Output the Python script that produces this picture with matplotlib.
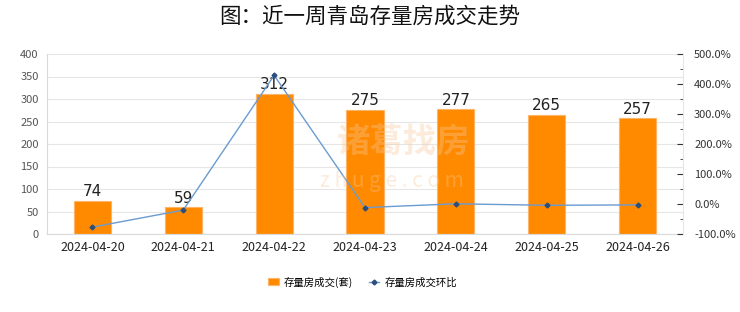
import matplotlib
matplotlib.use("Agg")
import matplotlib.pyplot as plt
from matplotlib.ticker import MultipleLocator, FuncFormatter

plt.rcParams['font.family'] = ['Noto Sans CJK SC', 'DejaVu Sans']

dates = ["2024-04-20", "2024-04-21", "2024-04-22", "2024-04-23", "2024-04-24", "2024-04-25", "2024-04-26"]
volume = [74, 59, 312, 275, 277, 265, 257]
mom_pct = [-77.0, -20.3, 428.8, -11.9, 0.7, -4.3, -3.0]

fig = plt.figure(figsize=(7.4, 3.12), dpi=100)
ax = fig.add_axes([47/740, 1-234/312, (683-47)/740, 180/312])
ax2 = ax.twinx()

x = list(range(len(dates)))
bars = ax.bar(x, volume, width=0.41, color='#FF8A00', edgecolor='#FFB366', linewidth=0.8,
              label='存量房成交(套)', zorder=2)
for xi, v in zip(x, volume):
    ax.text(xi, v + 4, str(v), ha='center', va='bottom', fontsize=11, color='#222222',
            family=['DejaVu Sans'])

ax.set_xlim(-0.5, len(dates) - 0.5)
ax.set_ylim(0, 400)
ax.yaxis.set_major_locator(MultipleLocator(50))
ax.grid(axis='y', color='#e6e6e6', linewidth=0.8, zorder=0)
ax.set_axisbelow(True)
ax.set_xticks(x)
ax.set_xticklabels(dates, fontsize=9, color='#222222')
ax.tick_params(axis='x', length=0, pad=5)
ax.tick_params(axis='y', length=0, labelsize=8, labelcolor='#555555', pad=6)
for s in ['top', 'right']:
    ax.spines[s].set_visible(False)
for s in ['left', 'bottom']:
    ax.spines[s].set_color('#d9d9d9')

line, = ax2.plot(x, mom_pct, color='#6a9bd1', linewidth=1.0, marker='D', markersize=2.5,
                 markerfacecolor='#2c4f7c', markeredgecolor='#2c4f7c', label='存量房成交环比', zorder=3)
ax2.set_ylim(-100, 500)
ax2.yaxis.set_major_locator(MultipleLocator(100))
ax2.yaxis.set_minor_locator(MultipleLocator(50))
ax2.yaxis.set_major_formatter(FuncFormatter(lambda v, p: f"{v:.1f}%"))
ax2.tick_params(axis='y', which='major', direction='in', length=4, color='#333333',
                labelsize=8, labelcolor='#333333', pad=8)
ax2.tick_params(axis='y', which='minor', direction='in', length=2, color='#333333')
for s in ['top', 'left', 'bottom']:
    ax2.spines[s].set_visible(False)
ax2.spines['right'].set_color('#e6e6e6')

# watermark
fig.text(0.545, 1-143/312, '诸葛找房', ha='center', va='center', fontsize=24, color='#f7c89a',
         alpha=0.35, fontweight='bold')
fig.text(0.53, 1-181/312, 'z h u g e . c o m', ha='center', va='center', fontsize=15, color='#f7c89a',
         alpha=0.35)

fig.text(0.5, 0.948, '图：近一周青岛存量房成交走势', ha='center', va='center', fontsize=15.5,
         color='#111111', fontweight='medium')

fig.legend(handles=[bars, line], labels=['存量房成交(套)', '存量房成交环比'],
           loc='center', bbox_to_anchor=(0.49, 1-282/312), ncol=2, frameon=False,
           fontsize=7.5, handlelength=1.0, columnspacing=1.5, handletextpad=0.5)

fig.savefig('out.png', dpi=100)
